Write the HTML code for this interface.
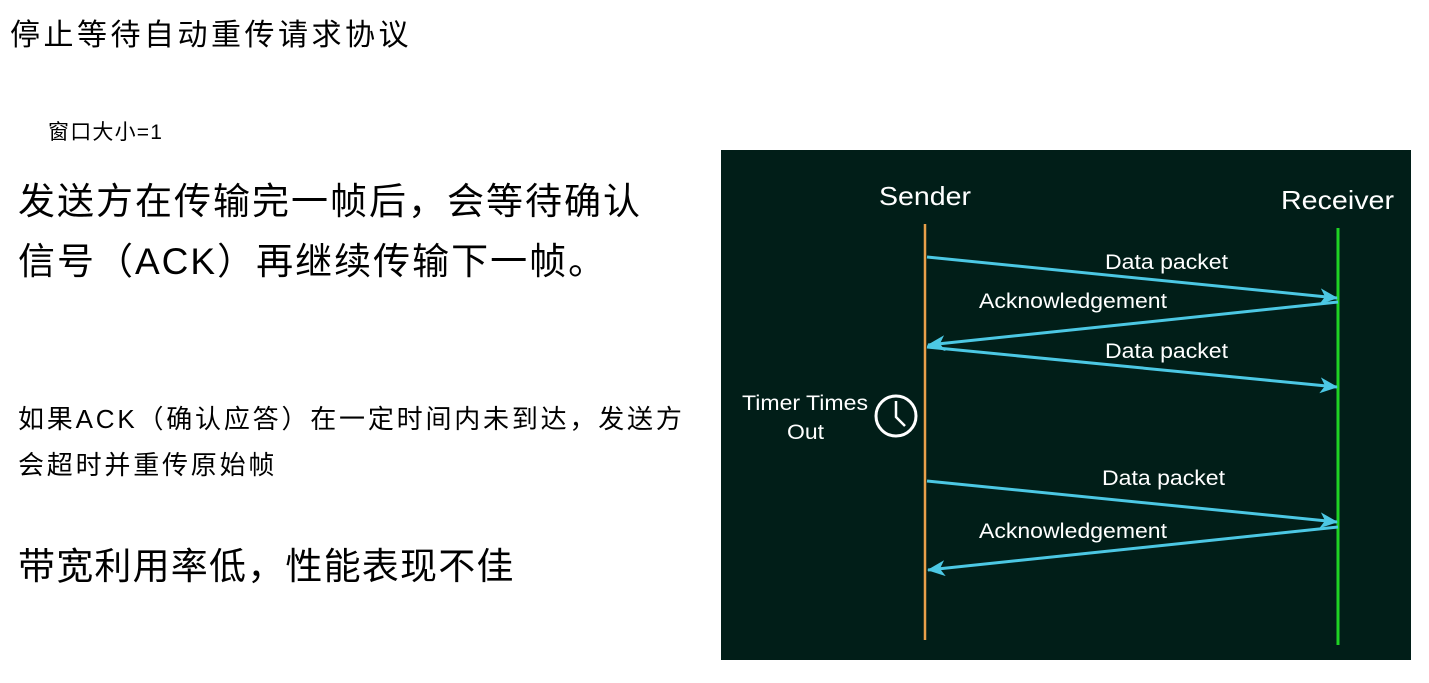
<!DOCTYPE html>
<html><head><meta charset="utf-8"><style>
html,body{margin:0;padding:0;background:#fff;width:1429px;height:683px;overflow:hidden}
body{position:relative;font-family:"Liberation Sans","Noto Sans CJK SC",sans-serif;color:#000}
.t{position:absolute;white-space:nowrap}
</style></head><body>
<div class="t" style="left:10px;top:10px;font-size:30px;letter-spacing:3.5px">停止等待自动重传请求协议</div>
<div class="t" style="left:48px;top:116px;font-size:21px;letter-spacing:1.2px">窗口大小=1</div>
<div class="t" style="left:18px;top:172px;font-size:37px;line-height:60px;letter-spacing:2px">发送方在传输完一帧后，会等待确认<br>信号（ACK）再继续传输下一帧。</div>
<div class="t" style="left:18px;top:396px;font-size:26px;line-height:46px;letter-spacing:2.8px">如果ACK（确认应答）在一定时间内未到达，发送方<br>会超时并重传原始帧</div>
<div class="t" style="left:18px;top:536px;font-size:37px;letter-spacing:1.2px">带宽利用率低，性能表现不佳</div>
<svg style="position:absolute;left:0;top:0" width="1429" height="683">
<defs><marker id="a" markerWidth="20" markerHeight="20" refX="17" refY="10" orient="auto" markerUnits="userSpaceOnUse"><path d="M0,2 L18,10 L0,18 L5,10 Z" fill="#4cc8e4"/></marker></defs>
<rect x="721" y="150" width="690" height="510" fill="#011e18"/>
<line x1="925" y1="224" x2="925" y2="640" stroke="#e9a04a" stroke-width="2.5"/>
<line x1="1338" y1="228" x2="1338" y2="645" stroke="#1ed324" stroke-width="3"/>
<g stroke="#4cc8e4" stroke-width="3" marker-end="url(#a)">
<line x1="927" y1="257" x2="1337" y2="298"/>
<line x1="1338" y1="302" x2="928" y2="345"/>
<line x1="927" y1="347" x2="1337" y2="387"/>
<line x1="927" y1="481" x2="1337" y2="522"/>
<line x1="1338" y1="527" x2="928" y2="570"/>
</g>
<circle cx="896" cy="416" r="20" fill="none" stroke="#fff" stroke-width="3"/>
<path d="M896,401 L896,417 L905,426" fill="none" stroke="#fff" stroke-width="2.5"/>
<g fill="#fff" font-family="Liberation Sans, sans-serif">
<text x="879" y="205" font-size="26" textLength="92" lengthAdjust="spacingAndGlyphs">Sender</text>
<text x="1281" y="209" font-size="26" textLength="113" lengthAdjust="spacingAndGlyphs">Receiver</text>
<text x="1105" y="269" font-size="21" textLength="123" lengthAdjust="spacingAndGlyphs">Data packet</text>
<text x="979" y="308" font-size="21" textLength="188" lengthAdjust="spacingAndGlyphs">Acknowledgement</text>
<text x="1105" y="358" font-size="21" textLength="123" lengthAdjust="spacingAndGlyphs">Data packet</text>
<text x="742" y="410" font-size="21" textLength="126" lengthAdjust="spacingAndGlyphs">Timer Times</text>
<text x="787" y="439" font-size="21" textLength="37" lengthAdjust="spacingAndGlyphs">Out</text>
<text x="1102" y="485" font-size="21" textLength="123" lengthAdjust="spacingAndGlyphs">Data packet</text>
<text x="979" y="538" font-size="21" textLength="188" lengthAdjust="spacingAndGlyphs">Acknowledgement</text>
</g>
</svg>
</body></html>
